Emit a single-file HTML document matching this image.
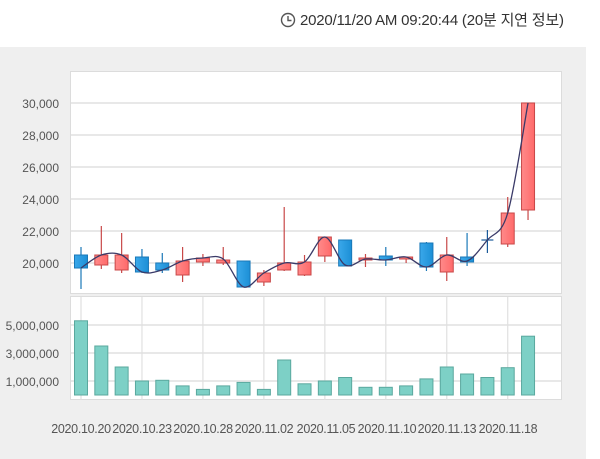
<!DOCTYPE html>
<html><head><meta charset="utf-8"><style>
html,body{margin:0;padding:0;background:#fff;width:600px;height:459px;overflow:hidden}
svg{display:block;font-family:"Liberation Sans","Noto Sans CJK KR",sans-serif}
</style></head><body>
<svg id="s" width="600" height="459" xmlns="http://www.w3.org/2000/svg">
<defs>
<linearGradient id="rg" x1="0" x2="1"><stop offset="0" stop-color="#ff8a8a"/><stop offset="1" stop-color="#ff6a6a"/></linearGradient>
<linearGradient id="bg" x1="0" x2="1"><stop offset="0" stop-color="#3aa8ea"/><stop offset="1" stop-color="#1c8fd6"/></linearGradient>
</defs>
<rect x="0" y="47" width="586" height="412" fill="#efefef"/>
<rect x="70.5" y="71.5" width="491" height="222" fill="#fff" stroke="#dcdcdc"/>
<rect x="70.5" y="296.5" width="491" height="103" fill="#fff" stroke="#dcdcdc"/>
<g stroke="#e0e0e0" stroke-width="1.5">
<line x1="71" x2="561" y1="103" y2="103"/><line x1="71" x2="561" y1="135" y2="135"/>
<line x1="71" x2="561" y1="167" y2="167"/><line x1="71" x2="561" y1="199" y2="199"/>
<line x1="71" x2="561" y1="231" y2="231"/><line x1="71" x2="561" y1="263" y2="263"/>
<line x1="71" x2="561" y1="325" y2="325"/><line x1="71" x2="561" y1="353" y2="353"/><line x1="71" x2="561" y1="381" y2="381"/>
</g>
<g id="vg" stroke="#e0e0e0" stroke-width="1.2"></g>
<g id="cd"></g>
<g fill="#555" font-size="12" text-anchor="end">
<text x="59" y="108">30,000</text><text x="59" y="140">28,000</text><text x="59" y="172">26,000</text>
<text x="59" y="204">24,000</text><text x="59" y="236">22,000</text><text x="59" y="268">20,000</text>
<text x="59" y="330">5,000,000</text><text x="59" y="358">3,000,000</text><text x="59" y="386">1,000,000</text>
</g>
<g fill="#555" font-size="12.5" text-anchor="middle" letter-spacing="-0.3">
<text x="81" y="433">2020.10.20</text><text x="142" y="433">2020.10.23</text><text x="203" y="433">2020.10.28</text>
<text x="264" y="433">2020.11.02</text><text x="326" y="433">2020.11.05</text><text x="387" y="433">2020.11.10</text>
<text x="447" y="433">2020.11.13</text><text x="508" y="433">2020.11.18</text>
</g>
<g fill="none" stroke="#555" stroke-width="1.4"><circle cx="288" cy="20" r="6.5"/><path d="M288 16v4.5h3.5"/></g>
<text x="300" y="25" fill="#333" font-size="15" letter-spacing="-0.2">2020/11/20 AM 09:20:44 (20분 지연 정보)</text>
</svg>
<script>
var c=[[1,255,268,247,289,268],[0,255,265,226,269,255],[0,255,270,233,273,255],[1,257,272,249,273,272],[1,263,270,253,273,270],[0,261,275,247,282,261],[0,258,262,254,266,258],[0,260,263,247,265,259],[1,261,287,261,287,287],[0,273,282,270,286,273],[0,263,270,207,271,263],[0,262,275,255,276,262],[0,237,256,237,262,237],[1,240,266,240,266,265],[0,258,260,254,267,259],[1,256,260,247,266,260],[0,257,258,257,263,257],[1,243,267,242,271,267],[0,255,272,237,281,255],[1,257,262,233,266,261],[2,240,240,230,253,240],[0,213,244,197,247,213],[0,103,210,103,220,103]];
var v=[5.3,3.5,2.0,1.0,1.05,0.65,0.4,0.65,0.9,0.4,2.5,0.8,1.0,1.25,0.55,0.55,0.65,1.15,2.0,1.5,1.25,1.95,4.2];
var g='',vg='',P=[];
for(var i=0;i<23;i++){var x=81+i*20.32;P.push([x,c[i][5]]);
 if(i%3==0)vg+='<line x1="'+x+'" x2="'+x+'" y1="297" y2="400"/>';
 var d=c[i],col=d[0]==1?'#1a78b8':(d[0]==2?'#1a5a9a':'#c84848'),f=d[0]==1?'url(#bg)':'url(#rg)';
 g+='<line x1="'+x+'" x2="'+x+'" y1="'+d[3]+'" y2="'+d[4]+'" stroke="'+col+'" stroke-width="1.2"/>';
 if(d[0]==2)g+='<line x1="'+(x-6)+'" x2="'+(x+6)+'" y1="'+d[1]+'" y2="'+d[1]+'" stroke="'+col+'" stroke-width="1.2"/>';
 else g+='<rect x="'+(x-6.5)+'" y="'+d[1]+'" width="13" height="'+Math.max(2,d[2]-d[1])+'" fill="'+f+'" stroke="'+col+'" stroke-width="1"/>';
 var h=v[i]*14;g+='<rect x="'+(x-6.5)+'" y="'+(395-h)+'" width="13" height="'+h+'" fill="#7dd0c6" stroke="#5aa89e" stroke-width="1"/>';}
var p='M'+P[0][0]+','+P[0][1];
for(var i=0;i<22;i++){var a=P[Math.max(0,i-1)],b=P[i],e=P[i+1],f2=P[Math.min(22,i+2)];
 p+=' C'+(b[0]+(e[0]-a[0])/6)+','+(b[1]+(e[1]-a[1])/6)+' '+(e[0]-(f2[0]-b[0])/6)+','+(e[1]-(f2[1]-b[1])/6)+' '+e[0]+','+e[1];}
g+='<path d="'+p+'" fill="none" stroke="#3a3a68" stroke-width="1.3"/>';
document.getElementById('vg').innerHTML=vg;document.getElementById('cd').innerHTML=g;
</script>
</body></html>
